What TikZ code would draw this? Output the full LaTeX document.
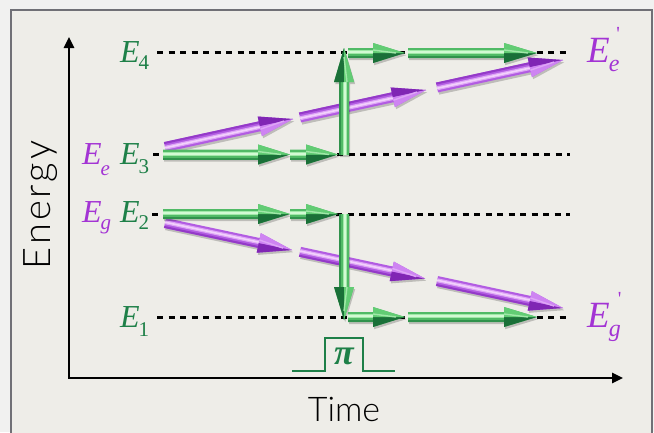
\documentclass[tikz,border=0pt]{standalone}
\usepackage{fontspec}
\setmainfont{Liberation Serif}
\newfontfamily\axisfont{Lato Light}
\newfontfamily\primefont{Liberation Serif}[Ligatures=TeXOff]
\usetikzlibrary{calc,arrows.meta}

% panel
\definecolor{pagebg}{RGB}{241,241,240}
\definecolor{panelbg}{RGB}{238,237,232}
\definecolor{framegray}{RGB}{112,112,118}
% label colours
\definecolor{lvlgreen}{RGB}{30,128,72}
\definecolor{lvlpurple}{RGB}{163,52,212}
% green tube arrows
\definecolor{gmid}{RGB}{80,186,102}
\definecolor{glight}{RGB}{160,232,168}
\definecolor{gshine}{RGB}{210,250,212}
\definecolor{gedge}{RGB}{48,146,76}
\definecolor{gdark}{RGB}{26,112,56}
\definecolor{ghead}{RGB}{98,204,116}
% purple tube arrows
\definecolor{pmid}{RGB}{178,92,226}
\definecolor{plight}{RGB}{222,166,246}
\definecolor{pshine}{RGB}{242,210,252}
\definecolor{pedge}{RGB}{148,58,200}
\definecolor{pdark}{RGB}{128,38,180}
\definecolor{phead}{RGB}{206,132,242}

% #1 tail, #2 tip, #3 palette prefix, #4 lit side angle, #5 shaded side angle, #6 head length
\newcommand{\tubearrow}[6]{%
  \coordinate (ta) at (#1);
  \coordinate (tb) at (#2);
  \coordinate (th) at ($(tb)!#6!(ta)$);
  \coordinate (sl0) at ($(ta)!5pt!#4:(tb)$);
  \coordinate (sd0) at ($(ta)!5pt!#5:(tb)$);
  \coordinate (sl1) at ($(th)!5pt!#4:(tb)$);
  \coordinate (sd1) at ($(th)!5pt!#5:(tb)$);
  \coordinate (hl) at ($(th)!10pt!#4:(tb)$);
  \coordinate (hd) at ($(th)!10pt!#5:(tb)$);
  \begin{scope}[transform canvas={shift={(1.2pt,-2.2pt)}}]
    \fill[black,opacity=.2] (sl0) -- (sl1) -- (hl) -- (tb) -- (hd) -- (sd1) -- (sd0) -- cycle;
  \end{scope}
  \fill[#3mid] (sl0) -- (sl1) -- (hl) -- (tb) -- (hd) -- (sd1) -- (sd0) -- cycle;
  \draw[#3edge,line width=2pt] ($(ta)!4pt!#5:(tb)$) -- ($(th)!4pt!#5:(tb)$);
  \draw[#3light,line width=4pt] ($(ta)!0.8pt!#4:(tb)$) -- ($(th)!0.8pt!#4:(tb)$);
  \draw[#3shine,line width=1.6pt] ($(ta)!0.8pt!#4:(tb)$) -- ($(th)!0.8pt!#4:(tb)$);
  \fill[#3dark] (th) -- (hd) -- (tb) -- cycle;
  \fill[#3head] (th) -- (hl) -- (tb) -- cycle;
  \draw[#3light,line width=1.4pt] ($(th)!3pt!#4:(tb)$) -- ($(tb)!9pt!(th)$);
}

\newcommand{\levelE}[3]{{\fontsize{32}{32}\selectfont\itshape E}\kern-1pt\raisebox{-#3}{\fontsize{21}{21}\selectfont #1#2}}
\newcommand{\finalE}[1]{{\fontsize{37}{37}\selectfont\itshape E}\kern-1pt\raisebox{-9pt}{\fontsize{24}{24}\selectfont\itshape #1}\kern-3pt\raisebox{22pt}{\primefont\fontsize{20}{20}\selectfont '}}

\tikzset{
  levelline/.style={black,line width=3pt,dash pattern=on 6pt off 5.5pt},
  axisline/.style={black,line width=2.5pt,{Triangle[length=11pt,width=10pt]}-{Triangle[length=11pt,width=10pt]}},
  lvllab/.style={anchor=base west,inner sep=0pt,text=lvlgreen},
  statelab/.style={anchor=base west,inner sep=0pt,text=lvlpurple},
  axislab/.style={inner sep=0pt,anchor=base,font=\axisfont\fontsize{34}{34}\selectfont}
}

\begin{document}
\begin{tikzpicture}[x=1pt,y=-1pt]
  \useasboundingbox (0,0) rectangle (654,432);
  \fill[pagebg] (0,0) rectangle (654,432);
  \filldraw[fill=panelbg,draw=framegray,line width=2pt] (10.5,9.5) rectangle (651.5,445);

  % axes
  \coordinate (ytop) at (69,37);
  \coordinate (origin) at (69,378);
  \coordinate (xend) at (623,378);
  \draw[axisline] (ytop) -- (origin) -- (xend);
  \node[axislab,rotate=90,font=\axisfont\fontsize{38}{38}\selectfont\addfontfeature{LetterSpace=8}] (energy) at (50,205) {Energy};
  \node[axislab] (time) at (344,421) {Time};

  % energy levels
  \coordinate (l4a) at (157,52);  \coordinate (l4b) at (569,52);
  \coordinate (l3a) at (153,154); \coordinate (l3b) at (570,154);
  \coordinate (l2a) at (152,214); \coordinate (l2b) at (570,214);
  \coordinate (l1a) at (157,317); \coordinate (l1b) at (570,317);
  \draw[levelline] (l4a) -- (l4b);
  \draw[levelline] (l3a) -- (l3b);
  \draw[levelline] (l2a) -- (l2b);
  \draw[levelline] (l1a) -- (l1b);

  \node[lvllab] (E4) at (120,62) {\levelE{}{4}{7pt}};
  \node[lvllab] (E3) at (120,164) {\levelE{}{3}{9pt}};
  \node[lvllab] (E2) at (120,222) {\levelE{}{2}{7pt}};
  \node[lvllab] (E1) at (120,327) {\levelE{}{1}{9pt}};
  \node[statelab] (Ee) at (82,164) {\levelE{\itshape}{e}{11pt}};
  \node[statelab] (Eg) at (82,222) {\levelE{\itshape}{g}{7pt}};
  \node[statelab] (Eep) at (587,62) {\finalE{e}};
  \node[statelab] (Egp) at (587,327) {\finalE{g}};

  % pi pulse
  \draw[lvlgreen,line width=2pt] (292,371) -- (325,371) -- (325,338) -- (363,338) -- (363,371) -- (395,371);
  \node[anchor=base,inner sep=0pt,text=lvlgreen] (pulse) at (344,364)
    {\fontsize{36}{36}\selectfont\bfseries\itshape π};

  % purple paths
  \coordinate (pa1) at (165,147);   \coordinate (pb1) at (293,119);
  \coordinate (pa2) at (300,117.5); \coordinate (pb2) at (426,90);
  \coordinate (pa3) at (437,87.5);  \coordinate (pb3) at (563,60);
  \coordinate (pa4) at (165,223);   \coordinate (pb4) at (292,250);
  \coordinate (pa5) at (300,251.8); \coordinate (pb5) at (425,278.5);
  \coordinate (pa6) at (437,281);   \coordinate (pb6) at (563,308);
  \tubearrow{pa1}{pb1}{p}{-90}{90}{34pt}
  \tubearrow{pa2}{pb2}{p}{-90}{90}{34pt}
  \tubearrow{pa3}{pb3}{p}{-90}{90}{34pt}
  \tubearrow{pa4}{pb4}{p}{90}{-90}{34pt}
  \tubearrow{pa5}{pb5}{p}{90}{-90}{34pt}
  \tubearrow{pa6}{pb6}{p}{90}{-90}{34pt}

  % green paths
  \coordinate (ga1) at (163,154.5); \coordinate (gb1) at (290,154.5);
  \coordinate (ga2) at (290,154.5); \coordinate (gb2) at (338,154.5);
  \coordinate (ga3) at (344,155);   \coordinate (gb3) at (344,48);
  \coordinate (ga4) at (348,53);    \coordinate (gb4) at (405,53);
  \coordinate (ga5) at (408,53);    \coordinate (gb5) at (537,53);
  \coordinate (ga6) at (163,214);   \coordinate (gb6) at (290,214);
  \coordinate (ga7) at (290,214);   \coordinate (gb7) at (338,214);
  \coordinate (ga8) at (344,214);   \coordinate (gb8) at (344,320);
  \coordinate (ga9) at (348,317);   \coordinate (gb9) at (405,317);
  \coordinate (ga10) at (408,317);  \coordinate (gb10) at (537,317);
  \tubearrow{ga1}{gb1}{g}{90}{-90}{32pt}
  \tubearrow{ga2}{gb2}{g}{90}{-90}{32pt}
  \tubearrow{ga3}{gb3}{g}{-90}{90}{34pt}
  \tubearrow{ga4}{gb4}{g}{90}{-90}{32pt}
  \tubearrow{ga5}{gb5}{g}{90}{-90}{33pt}
  \tubearrow{ga6}{gb6}{g}{90}{-90}{32pt}
  \tubearrow{ga7}{gb7}{g}{90}{-90}{32pt}
  \tubearrow{ga8}{gb8}{g}{90}{-90}{33pt}
  \tubearrow{ga9}{gb9}{g}{90}{-90}{32pt}
  \tubearrow{ga10}{gb10}{g}{90}{-90}{33pt}
\end{tikzpicture}
\end{document}
